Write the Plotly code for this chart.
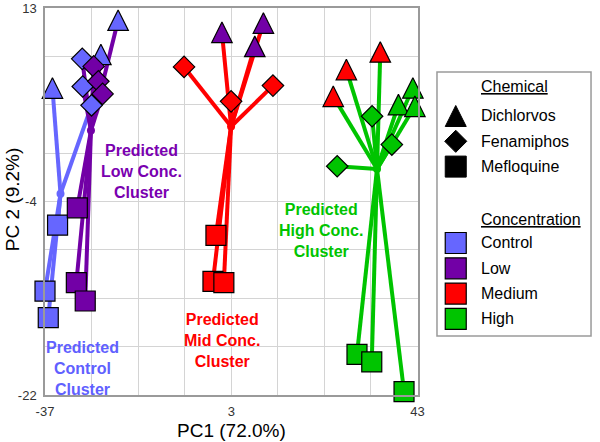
import plotly.graph_objects as go

# ---------------- data ----------------
pc1 = [-21.3, -25.0, -35.4, -29.0, -28.9, -27.0, -34.3, -37.0, -36.3,
       -26.54, -25.54, -24.63, -30.06, -30.27, -28.36, 1.0, 9.9, 8.05,
       -7.14, 2.96, 11.95, -0.29, -0.93, 1.41, 24.9, 27.72, 35.0,
       25.75, 33.24, 37.48, 42.0, 38.9, 42.43, 30.0, 33.17, 40.1]
pc2 = [11.9, 8.8, 5.76, 8.4, 5.9, 4.2, -6.64, -12.6, -15.0,
       7.72, 6.37, 5.23, -5.07, -11.84, -13.5, 10.8, 11.64, 9.53,
       7.67, 4.56, 5.98, -7.57, -11.72, -11.84, 5.01, 7.43, 9.03,
       -1.31, 3.21, 0.65, 5.77, 4.26, 4.11, -18.32, -19.01, -21.69]
chemical = ["Dichlorvos", "Dichlorvos", "Dichlorvos", "Fenamiphos", "Fenamiphos", "Fenamiphos",
            "Mefloquine", "Mefloquine", "Mefloquine",
            "Fenamiphos", "Fenamiphos", "Fenamiphos", "Mefloquine", "Mefloquine", "Mefloquine",
            "Dichlorvos", "Dichlorvos", "Dichlorvos",
            "Fenamiphos", "Fenamiphos", "Fenamiphos", "Mefloquine", "Mefloquine", "Mefloquine",
            "Dichlorvos", "Dichlorvos", "Dichlorvos",
            "Fenamiphos", "Fenamiphos", "Fenamiphos", "Dichlorvos", "Dichlorvos", "Dichlorvos",
            "Mefloquine", "Mefloquine", "Mefloquine"]
concentration = ["Control"] * 9 + ["Low"] * 9 + ["Medium"] * 9 + ["High"] * 9
cluster = ["Low", "Low", "Control", "Low", "Low", "Control", "Control", "Control", "Control",
           "Low", "Low", "Low", "Low", "Low", "Low", "Mid", "Mid", "Mid",
           "Mid", "Mid", "Mid", "Mid", "Mid", "Mid", "High", "High", "High",
           "High", "High", "High", "High", "High", "High", "High", "High", "High"]

cluster_names = ["Control", "Low", "Mid", "High"]
centroid_pc1 = [-33.67, -27.13, 2.96, 34.3]
centroid_pc2 = [-3.8, 1.92, 2.28, -1.56]

cluster_label_text = ["Predicted<br>Control<br>Cluster", "Predicted<br>Low Conc.<br>Cluster",
                      "Predicted<br>Mid Conc.<br>Cluster", "Predicted<br>High Conc.<br>Cluster"]
cluster_label_pc1 = [-29.04, -16.2, 0.98, 22.2]
cluster_label_pc2 = [-19.63, -1.79, -17.05, -7.12]

chemicals = ["Dichlorvos", "Fenamiphos", "Mefloquine"]
concentrations = ["Control", "Low", "Medium", "High"]

x_range = [-37, 43]
y_range = [-22, 13]
x_tick_vals = [-37, -27, -17, -7, 3, 13, 23, 33, 43]
x_tick_text = ["-37", "", "", "", "3", "", "", "", "43"]
y_tick_vals = [13, 8.625, 4.25, -0.125, -4.5, -8.875, -13.25, -17.625, -22]
y_tick_text = ["13", "", "", "", "-4", "", "", "", "-22"]

x_title = "PC1 (72.0%)"
y_title = "PC 2 (9.2%)"

# ---------------- styles / layout constants ----------------
W, H = 600, 442
M_L, M_R, M_T, M_B = 45, 0, 8, 47
PLOT_H = H - M_T - M_B
conc_color = {"Control": "#6666ff", "Low": "#7200a6", "Medium": "#ff0000", "High": "#00c400"}
cluster_color = {"Control": "#6666ff", "Low": "#7200a6", "Mid": "#ff0000", "High": "#00c400"}
label_color = {"Control": "#6060ff", "Low": "#7a00b0", "Mid": "#ff0000", "High": "#00c400"}
FONT = "Liberation Sans, Arial, sans-serif"
TRI, DIA, SQ = 20.5, 16.5, 20
chem_symbol = {"Dichlorvos": "arrow-up", "Fenamiphos": "diamond", "Mefloquine": "square"}
chem_size = {"Dichlorvos": TRI, "Fenamiphos": DIA, "Mefloquine": SQ}
# 'arrow-up' hangs below its anchor by its full size; lift it by half its size so it sits centred
y_units_per_px = (y_range[1] - y_range[0]) / PLOT_H
def lift(chem, units_per_px, size):
    return (size / 2) * units_per_px if chem == "Dichlorvos" else 0.0

fig = go.Figure()

# connecting lines from each cluster centre to its members
for ci, cname in enumerate(cluster_names):
    lx, ly = [], []
    for x, y, c in zip(pc1, pc2, cluster):
        if c == cname:
            lx += [centroid_pc1[ci], x, None]
            ly += [centroid_pc2[ci], y, None]
    fig.add_trace(go.Scatter(x=lx, y=ly, mode="lines", cliponaxis=False,
                             line=dict(color=cluster_color[cname], width=4),
                             showlegend=False, hoverinfo="skip"))
    fig.add_trace(go.Scatter(x=[centroid_pc1[ci]], y=[centroid_pc2[ci]], mode="markers",
                             cliponaxis=False,
                             marker=dict(color=cluster_color[cname], size=8, opacity=1,
                                         line=dict(width=0)),
                             showlegend=False, hoverinfo="skip"))

# sample markers
for conc in concentrations:
    idx = [i for i, c in enumerate(concentration) if c == conc]
    fig.add_trace(go.Scatter(
        x=[pc1[i] for i in idx],
        y=[pc2[i] + lift(chemical[i], y_units_per_px, chem_size[chemical[i]]) for i in idx],
        mode="markers", cliponaxis=False,
        marker=dict(color=conc_color[conc], opacity=1,
                    symbol=[chem_symbol[chemical[i]] for i in idx],
                    size=[chem_size[chemical[i]] for i in idx],
                    line=dict(color="black", width=1.2)),
        text=[chemical[i] for i in idx], name=conc, showlegend=False))

# cluster labels
for ci, cname in enumerate(cluster_names):
    fig.add_annotation(x=cluster_label_pc1[ci], y=cluster_label_pc2[ci], xref="x", yref="y",
                       text="<b>" + cluster_label_text[ci] + "</b>", showarrow=False,
                       font=dict(family=FONT, size=16, color=label_color[cname]),
                       align="center", xanchor="center", yanchor="middle")

# axis titles
fig.add_annotation(x=0.5, y=-0.093, xref="x domain", yref="y domain", text=x_title,
                   showarrow=False, font=dict(family=FONT, size=19, color="black"),
                   xanchor="center", yanchor="middle")
fig.add_annotation(x=-0.087, y=0.505, xref="x domain", yref="y domain", text=y_title,
                   showarrow=False, textangle=-90, font=dict(family=FONT, size=19, color="black"),
                   xanchor="center", yanchor="middle")

# ---------------- custom legend (own hidden axes, 1 unit = 1 px) ----------------
leg_x_sym = 19
leg_x_txt = 43
row_gap = 25.3
chem_first = 44
conc_first = 171
chem_rows = [chem_first + i * row_gap for i in range(len(chemicals))]
conc_rows = [conc_first + i * row_gap for i in range(len(concentrations))]
leg_size = {"Dichlorvos": 21, "Fenamiphos": 17, "Mefloquine": 21}

fig.add_trace(go.Scatter(
    x=[leg_x_sym] * len(chemicals),
    y=[r - lift(c, 1.0, leg_size[c]) for r, c in zip(chem_rows, chemicals)],
    xaxis="x2", yaxis="y2", mode="markers", cliponaxis=False,
    marker=dict(color="black", opacity=1, symbol=[chem_symbol[c] for c in chemicals],
                size=[leg_size[c] for c in chemicals], line=dict(color="black", width=1)),
    showlegend=False, hoverinfo="skip"))
fig.add_trace(go.Scatter(
    x=[leg_x_sym] * len(concentrations), y=conc_rows, xaxis="x2", yaxis="y2", mode="markers",
    cliponaxis=False,
    marker=dict(color=[conc_color[c] for c in concentrations], symbol="square", size=21, opacity=1,
                line=dict(color="black", width=1.2)),
    showlegend=False, hoverinfo="skip"))

fig.add_annotation(x=leg_x_txt, y=15, xref="x2", yref="y2", text="<u>Chemical</u>",
                   showarrow=False, xanchor="left", yanchor="middle",
                   font=dict(family=FONT, size=16, color="black"))
fig.add_annotation(x=leg_x_txt, y=148, xref="x2", yref="y2", text="<u>Concentration</u>",
                   showarrow=False, xanchor="left", yanchor="middle",
                   font=dict(family=FONT, size=16, color="black"))
for name, yy in zip(chemicals, chem_rows):
    fig.add_annotation(x=leg_x_txt, y=yy, xref="x2", yref="y2", text=name, showarrow=False,
                       xanchor="left", yanchor="middle", font=dict(family=FONT, size=16, color="black"))
for name, yy in zip(concentrations, conc_rows):
    fig.add_annotation(x=leg_x_txt, y=yy, xref="x2", yref="y2", text=name, showarrow=False,
                       xanchor="left", yanchor="middle", font=dict(family=FONT, size=16, color="black"))

fig.add_shape(type="rect", xref="x2 domain", yref="y2 domain", x0=0, x1=1, y0=0, y1=1,
              line=dict(color="#9a9a9a", width=1.5), fillcolor="rgba(0,0,0,0)")

fig.update_layout(
    width=W, height=H,
    margin=dict(l=M_L, r=M_R, t=M_T, b=M_B, pad=0),
    paper_bgcolor="white", plot_bgcolor="white",
    showlegend=False, hovermode=False,
    font=dict(family=FONT),
    xaxis=dict(domain=[0, 0.6798], range=x_range, tickvals=x_tick_vals, ticktext=x_tick_text,
               showgrid=True, gridcolor="#d4d4d4", gridwidth=1, zeroline=False,
               showline=True, mirror=True, linecolor="#9a9a9a", linewidth=1.5,
               ticks="outside", ticklen=4, tickcolor="rgba(0,0,0,0)",
               tickfont=dict(family=FONT, size=13, color="#333333")),
    yaxis=dict(range=y_range, tickvals=y_tick_vals, ticktext=y_tick_text,
               showgrid=True, gridcolor="#d4d4d4", gridwidth=1, zeroline=False,
               showline=True, mirror=True, linecolor="#9a9a9a", linewidth=1.5,
               ticks="outside", ticklen=4, tickcolor="rgba(0,0,0,0)",
               tickfont=dict(family=FONT, size=13, color="#333333")),
    xaxis2=dict(domain=[0.7153, 0.9964], range=[0, 156], visible=False, anchor="y2", fixedrange=True),
    yaxis2=dict(domain=[0.15245, 0.83463], range=[264, 0], visible=False, anchor="x2", fixedrange=True),
)

fig.write_html("out.html", config={"displayModeBar": False},
               post_script="document.body.style.margin='0';document.body.style.padding='0';"
                           "document.body.style.overflow='hidden';")
